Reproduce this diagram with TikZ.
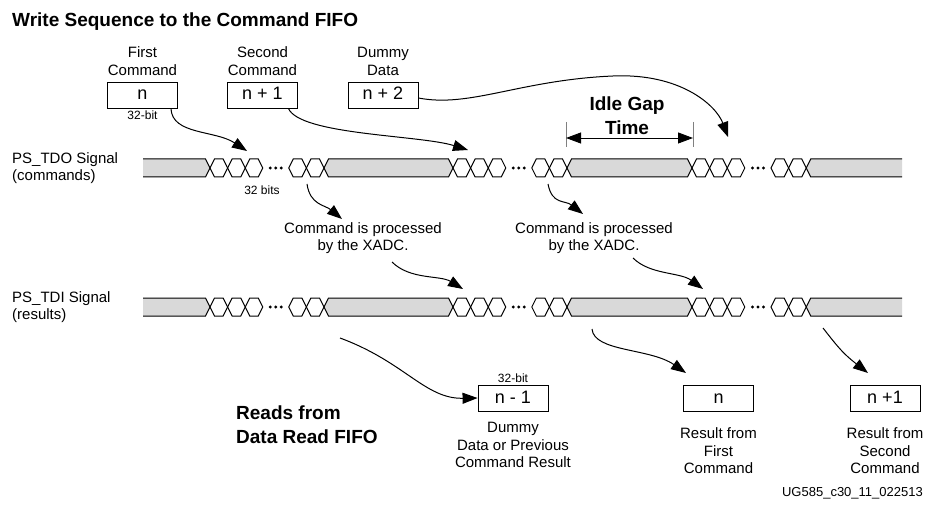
\documentclass[tikz,border=0pt]{standalone}
\usepackage{fontspec}
\setmainfont{Liberation Sans}
\usetikzlibrary{arrows.meta,positioning}

\begin{document}
\begin{tikzpicture}[
        x=1pt, y=-1pt,
        font=\fontsize{15}{17.5}\selectfont,
        node distance=6pt,
        valbox/.style={
            draw,
            line width=0.9pt,
            minimum width=70pt,
            minimum height=26pt,
            inner sep=0pt,
            text height=10pt,
            text depth=0pt,
            font=\fontsize{18}{20}\selectfont
        },
        txt/.style={align=center, inner sep=0pt},
        smalltxt/.style={inner sep=0pt, font=\fontsize{12}{14}\selectfont},
        heading/.style={inner sep=0pt, align=left, font=\fontsize{19}{24}\selectfont\bfseries},
        sigline/.style={line width=1pt, line join=miter},
        busfill/.style={fill=black!15},
        flow/.style={-{Triangle[length=15pt,width=11pt]}, line width=1pt},
        gapdim/.style={{Triangle[length=15pt,width=11pt]}-{Triangle[length=15pt,width=11pt]}, line width=0.9pt},
        gaptick/.style={draw=black!50, line width=0.6pt}
    ]
    \useasboundingbox (0,0) rectangle (925,510);

    \node[heading, anchor=base west] (title) at (12,27) {Write Sequence to the Command FIFO};

    % command words
    \node[valbox] (cmdn) at (142.5,95) {n};
    \node[valbox] (cmdna) at (262.5,95) {n + 1};
    \node[valbox] (cmdnb) at (383,95) {n + 2};
    \node[txt, above=6pt of cmdn] (lblfirst) {First\\Command};
    \node[txt, above=6pt of cmdna] (lblsecond) {Second\\Command};
    \node[txt, above=6pt of cmdnb] (lbldummy) {Dummy\\Data};
    \node[smalltxt, below=2pt of cmdn] (bitsn) {32-bit};

    % signal rows
    \node[txt, align=left, anchor=west] (tdo) at (12,168) {PS\_TDO Signal\\(commands)};
    \node[txt, align=left, anchor=west] (tdi) at (12,307) {PS\_TDI Signal\\(results)};
    \foreach \ry in {168,307}{
        \fill[busfill] (143,\ry-9) -- (205.5,\ry-9) -- (210,\ry) -- (205.5,\ry+9) -- (143,\ry+9) -- cycle;
        \draw[sigline] (143,\ry-9) -- (205.5,\ry-9) -- (210,\ry) -- (205.5,\ry+9) -- (143,\ry+9);
        \foreach \xa/\xb in {324/453,567/692}
            \filldraw[sigline,busfill] (\xa,\ry) -- (\xa+4.5,\ry-9) -- (\xb-4.5,\ry-9) -- (\xb,\ry) -- (\xb-4.5,\ry+9) -- (\xa+4.5,\ry+9) -- cycle;
        \fill[busfill] (902,\ry-9) -- (810.7,\ry-9) -- (806.2,\ry) -- (810.7,\ry+9) -- (902,\ry+9) -- cycle;
        \draw[sigline] (902,\ry-9) -- (810.7,\ry-9) -- (806.2,\ry) -- (810.7,\ry+9) -- (902,\ry+9);
        \foreach \xa in {210,227.6,245.2,288.8,306.4,453,470.6,488.2,531.8,549.4,692,709.6,727.2,771,788.6}
            \draw[sigline] (\xa,\ry) -- (\xa+4.5,\ry-9) -- (\xa+13.1,\ry-9) -- (\xa+17.6,\ry) -- (\xa+13.1,\ry+9) -- (\xa+4.5,\ry+9) -- cycle;
        \foreach \xd in {275.8,518.8,757.9}
            \foreach \dd in {-5.5,0,5.5}
                \fill (\xd+\dd,\ry) circle[radius=1.6pt];
    }
    \node[smalltxt] (bitsrow) at (262,190) {32 bits};

    % idle gap
    \node[heading, align=center] (idle) at (627,116) {Idle Gap\\Time};
    \coordinate (gapl) at (566,138);
    \coordinate (gapr) at (693,138);
    \draw[gaptick] (566,122) -- (566,147);
    \draw[gaptick] (693,122) -- (693,147);
    \draw[gapdim] (gapl) -- (gapr);

    \node[txt] (proc1) at (363,238) {Command is processed\\by the XADC.};
    \node[txt] (proc2) at (594,238) {Command is processed\\by the XADC.};

    % results
    \node[heading, anchor=west] (reads) at (236,425) {Reads from\\Data Read FIFO};
    \node[valbox] (resnm) at (513,398) {n - 1};
    \node[valbox] (resn) at (718.5,398) {n};
    \node[valbox] (resna) at (885,398) {n +1};
    \node[smalltxt, above=2pt of resnm] (bitsnm) {32-bit};
    \node[txt, below=11pt of resnm] (lblprev) {Dummy\\Data or Previous\\Command Result};
    \node[txt, below=16pt of resn] (lblres1) {Result from\\First\\Command};
    \node[txt, below=16pt of resna] (lblres2) {Result from\\Second\\Command};
    \node[anchor=east, inner sep=0pt, font=\fontsize{13}{15}\selectfont] (figid) at (923,493) {UG585\_c30\_11\_022513};

    % connector ends
    \coordinate (tdoin1) at (247,151);
    \coordinate (tdoin2) at (468,150);
    \coordinate (tdoin3) at (728,137);
    \coordinate (tdoout1) at (307,184);
    \coordinate (tdoout2) at (548,184);
    \coordinate (proc1in) at (342,219);
    \coordinate (proc2in) at (583,214);
    \coordinate (proc1out) at (392,262);
    \coordinate (proc2out) at (633,258);
    \coordinate (tdiin1) at (463,289);
    \coordinate (tdiin2) at (703,289);
    \coordinate (tdiout0) at (340,338);
    \coordinate (tdiout1) at (592,329);
    \coordinate (tdiout2) at (823,328);
    \coordinate (resnin) at (686,373);
    \coordinate (resnain) at (868,373);

    \draw[flow] ([xshift=-7pt]cmdn.south east) .. controls (172,135) and (215,130) .. (tdoin1);
    \draw[flow] ([xshift=-9.5pt]cmdna.south east) .. controls (300,135) and (420,135) .. (tdoin2);
    \draw[flow] ([yshift=-3pt]cmdnb.east) .. controls (470,108) and (520,80) .. (613,76) .. controls (680,73) and (716,105) .. (tdoin3);
    \draw[flow] (tdoout1) .. controls (310,205) and (325,205) .. (proc1in);
    \draw[flow] (tdoout2) .. controls (552,205) and (565,200) .. (proc2in);
    \draw[flow] (proc1out) .. controls (410,280) and (440,275) .. (tdiin1);
    \draw[flow] (proc2out) .. controls (650,275) and (680,272) .. (tdiin2);
    \draw[flow] (tdiout0) .. controls (405,362) and (425,399) .. (resnm.west);
    \draw[flow] (tdiout1) .. controls (594,352) and (650,348) .. (resnin);
    \draw[flow] (tdiout2) .. controls (840,350) and (845,355) .. (resnain);

\end{tikzpicture}
\end{document}
